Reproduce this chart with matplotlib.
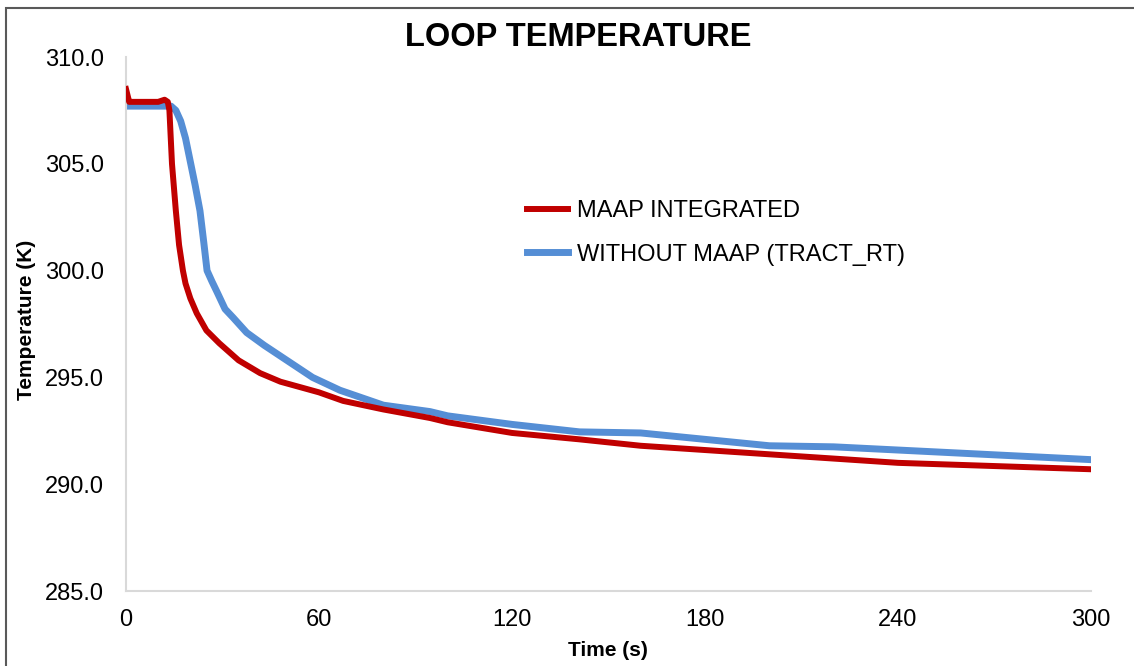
import matplotlib
matplotlib.use('Agg')
import matplotlib.pyplot as plt
from matplotlib.patches import Rectangle

plt.rcParams['font.family'] = ['Liberation Sans', 'DejaVu Sans']

# MAAP integrated run (red)
t_maap = [0, 0.5, 1, 2, 5, 10, 12, 13, 13.5, 14.3, 15.5, 16.5, 17.7, 18.5, 20, 22,
          23.5, 25, 29, 35, 41.7, 48, 60, 67.5, 80, 94.5, 100, 120, 141, 160, 180,
          200, 220, 240, 260, 280, 300]
temp_maap = [308.5, 308.2, 307.9, 307.9, 307.9, 307.9, 308.0, 307.9, 307.5, 305.0,
             302.8, 301.2, 300.0, 299.4, 298.7, 298.0, 297.6, 297.2, 296.6, 295.8,
             295.2, 294.8, 294.3, 293.9, 293.5, 293.1, 292.9, 292.4, 292.1, 291.8,
             291.6, 291.4, 291.2, 291.0, 290.9, 290.8, 290.7]

# standalone run without MAAP (blue)
t_tract = [0, 10, 14, 15.5, 17, 18.5, 20, 21.5, 23, 24.2, 25.2, 26.7, 28.3, 30.8,
           33.3, 37.5, 43, 50, 58, 66.5, 80, 94.5, 100, 120, 141, 160, 180, 200,
           220, 240, 260, 280, 300]
temp_tract = [307.7, 307.7, 307.7, 307.5, 307.0, 306.2, 305.1, 304.0, 302.8, 301.3,
              300.0, 299.5, 299.0, 298.2, 297.8, 297.1, 296.5, 295.8, 295.0, 294.4,
              293.7, 293.4, 293.2, 292.8, 292.45, 292.4, 292.1, 291.8, 291.75, 291.6,
              291.45, 291.3, 291.15]

x_ticks = [0, 60, 120, 180, 240, 300]
y_ticks = [285, 290, 295, 300, 305, 310]

fig = plt.figure(figsize=(11.34, 6.66), dpi=100)
ax = fig.add_axes([0.1111, 0.1126, 0.8510, 0.8018])

ax.plot(t_tract, temp_tract, color='#558ED5', lw=5, label='WITHOUT MAAP (TRACT_RT)', zorder=2)
ax.plot(t_maap, temp_maap, color='#C00000', lw=4.3, label='MAAP INTEGRATED', zorder=3)

ax.set_xlim(0, 300)
ax.set_ylim(285, 310)
ax.set_xticks(x_ticks)
ax.set_yticks(y_ticks)
ax.set_yticklabels(['%.1f' % v for v in y_ticks])
ax.tick_params(length=0, labelsize=17)
ax.tick_params(axis='y', pad=16)
ax.tick_params(axis='x', pad=13)
for s in ['top', 'right']:
    ax.spines[s].set_visible(False)
for s in ['left', 'bottom']:
    ax.spines[s].set_color('#D9D9D9')
    ax.spines[s].set_linewidth(1.5)

handles, labels = ax.get_legend_handles_labels()
ax.legend(handles[::-1], labels[::-1], loc='center left',
          bbox_to_anchor=(0.4647, 0.650), bbox_transform=fig.transFigure,
          frameon=False, fontsize=17, handlelength=1.74, handletextpad=0.38,
          labelspacing=0.9, borderpad=0, borderaxespad=0)

fig.text(0.5097, 0.943, 'LOOP TEMPERATURE', ha='center', va='center',
         fontsize=23.5, fontweight='bold')
fig.text(0.536, 0.024, 'Time (s)', ha='center', va='center',
         fontsize=15, fontweight='bold')
fig.text(0.0238, 0.5195, 'Temperature (K)', ha='center', va='center',
         fontsize=15, fontweight='bold', rotation=90)

# chart frame (cut off at right and bottom)
fig.patches.append(Rectangle((0.0053, -0.1), 1.2, 1.088, transform=fig.transFigure,
                             fill=False, edgecolor='#595959', lw=1.5))

fig.savefig('out.png', dpi=100)
